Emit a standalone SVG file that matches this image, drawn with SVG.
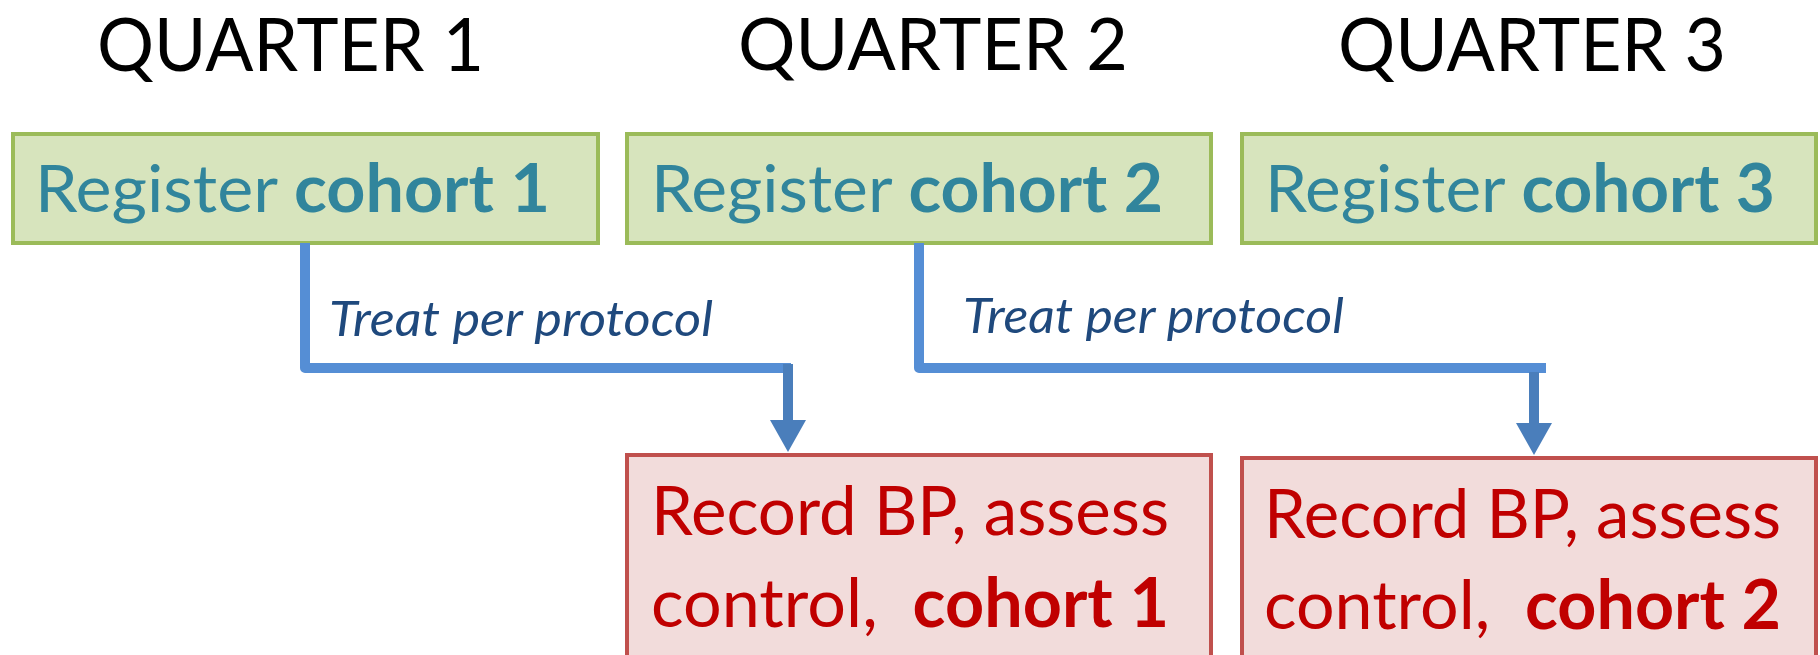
<svg xmlns="http://www.w3.org/2000/svg" width="1820" height="655" viewBox="0 0 1820 655">
<style>
.q{font-family:Lato,"Liberation Sans",sans-serif;font-size:74px;fill:#000}
.g{fill:#D7E4BD;stroke:#9BBB59;stroke-width:4}
.r{fill:#F2DCDB;stroke:#C0504D;stroke-width:4}
.gt{font-family:Lato,"Liberation Sans",sans-serif;font-size:66px;fill:#31859C}
.rt{font-family:Lato,"Liberation Sans",sans-serif;font-size:68px;fill:#C00000}
.b{font-weight:bold}
.tt{font-family:Lato,"Liberation Sans",sans-serif;font-size:49px;font-style:italic;fill:#1F497D}
.ln{fill:none;stroke:#558ED5;stroke-width:10;stroke-linejoin:round}
.sh{fill:none;stroke:#4A7EBB;stroke-width:10}
.ah{fill:#4A7EBB}
</style>
<g id="headers">
<text class="q" x="97" y="71" textLength="387" lengthAdjust="spacingAndGlyphs">QUARTER 1</text>
<text class="q" x="738" y="70" textLength="390" lengthAdjust="spacingAndGlyphs" style="font-size:72px">QUARTER 2</text>
<text class="q" x="1338" y="71" textLength="388" lengthAdjust="spacingAndGlyphs">QUARTER 3</text>
</g>
<g id="reg1"><rect class="g" x="13" y="134" width="585" height="109"/><text class="gt" x="35" y="212" textLength="515" lengthAdjust="spacingAndGlyphs">Register <tspan class="b">cohort 1</tspan></text></g>
<g id="reg2"><rect class="g" x="627" y="134" width="584" height="109"/><text class="gt" x="651" y="212" textLength="512" lengthAdjust="spacingAndGlyphs">Register <tspan class="b">cohort 2</tspan></text></g>
<g id="reg3"><rect class="g" x="1242" y="134" width="574" height="109"/><text class="gt" x="1265" y="212" textLength="510" lengthAdjust="spacingAndGlyphs">Register <tspan class="b">cohort 3</tspan></text></g>
<g id="connectors">
<path class="ln" d="M305 243 V368 H791"/>
<path class="sh" d="M788 364 V422"/>
<polygon class="ah" points="770,420 806,420 788,452"/>
<text class="tt" x="329" y="336" textLength="384" lengthAdjust="spacingAndGlyphs">Treat per protocol</text>
<path class="ln" d="M919 243 V368 H1546"/>
<path class="sh" d="M1534 372 V425"/>
<polygon class="ah" points="1516,423 1552,423 1534,455"/>
<text class="tt" x="963" y="333" textLength="381" lengthAdjust="spacingAndGlyphs">Treat per protocol</text>
</g>
<g id="rec1"><rect class="r" x="627" y="455" width="584" height="230"/>
<text class="rt" x="651" y="535" textLength="518" lengthAdjust="spacingAndGlyphs">Record BP, assess</text>
<text class="rt" x="651" y="627" textLength="518" lengthAdjust="spacingAndGlyphs" xml:space="preserve">control,  <tspan class="b">cohort 1</tspan></text></g>
<g id="rec2"><rect class="r" x="1242" y="458" width="574" height="230"/>
<text class="rt" x="1264" y="538" textLength="517" lengthAdjust="spacingAndGlyphs">Record BP, assess</text>
<text class="rt" x="1264" y="629" textLength="517" lengthAdjust="spacingAndGlyphs" xml:space="preserve">control,  <tspan class="b">cohort 2</tspan></text></g>
</svg>
